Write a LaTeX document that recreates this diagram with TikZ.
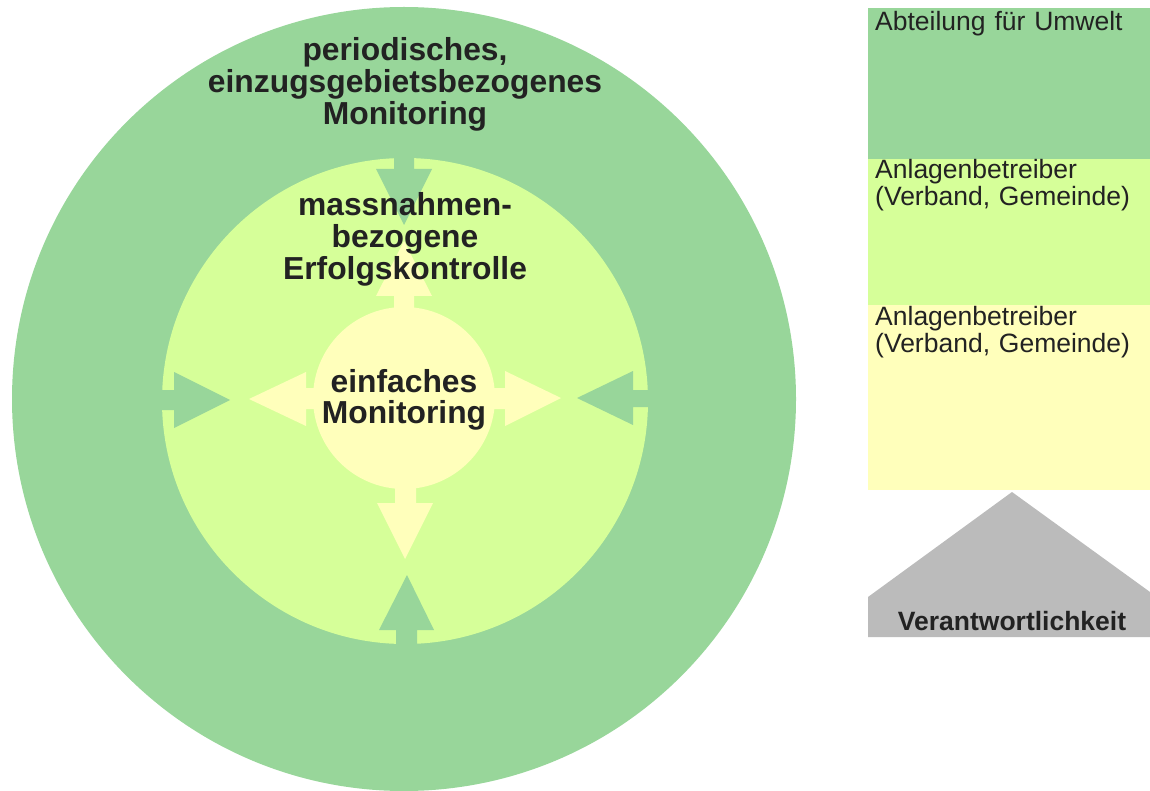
\documentclass[tikz,border=0pt]{standalone}
\usepackage{fontspec}
\setmainfont{Liberation Sans}
\definecolor{outergreen}{RGB}{152,214,154}
\definecolor{midgreen}{RGB}{214,255,153}
\definecolor{inyellow}{RGB}{255,255,187}
\definecolor{panelgray}{RGB}{187,187,187}
\definecolor{txt}{RGB}{34,34,34}
\tikzset{
  disc/.style={circle, inner sep=0pt, draw=none},
  bigtext/.style={font=\fontsize{31.8}{31.8}\selectfont\bfseries, text=txt, align=center, inner sep=0pt, anchor=base},
  labeltext/.style={font=\fontsize{26.5}{27}\selectfont, text=txt, align=left, inner sep=0pt, anchor=base west, text width=270pt},
  panel/.style={inner sep=0pt, draw=none, anchor=north west, minimum width=282pt},
}
\begin{document}
\begin{tikzpicture}[x=1pt,y=-1pt]
\useasboundingbox (0,0) rectangle (1150,791);
% circles
\node[disc, fill=outergreen, minimum size=784pt] (outer) at (404,399) {};
\node[disc, fill=midgreen, minimum size=486pt] (middle) at (405,401) {};
\node[disc, fill=inyellow, minimum size=182pt] (inner) at (404,398) {};
% green arrows (from outer ring inwards)
\fill[outergreen] (394,140) -- (414,140) -- (414,169) -- (432,169) -- (404,225) -- (376,169) -- (394,169) -- cycle;
\fill[outergreen] (150,390) -- (174,390) -- (174,372) -- (230,400) -- (174,428) -- (174,410) -- (150,410) -- cycle;
\fill[outergreen] (660,390) -- (633,390) -- (633,371) -- (577,398) -- (633,425) -- (633,407) -- (660,407) -- cycle;
\fill[outergreen] (396,660) -- (396,630) -- (379,630) -- (407,575) -- (434,630) -- (417,630) -- (417,660) -- cycle;
% yellow arrows (from inner circle outwards)
\fill[inyellow] (394,330) -- (394,296) -- (376,296) -- (404,241) -- (432,296) -- (414,296) -- (414,330) -- cycle;
\fill[inyellow] (330,388) -- (306,388) -- (306,372) -- (249,399) -- (306,426) -- (306,409) -- (330,409) -- cycle;
\fill[inyellow] (470,388) -- (505,388) -- (505,371) -- (561,398) -- (505,426) -- (505,409) -- (470,409) -- cycle;
\fill[inyellow] (395,470) -- (395,503) -- (377,503) -- (405,559) -- (433,503) -- (416,503) -- (416,470) -- cycle;
% circle texts
\node[bigtext, text width=420pt] (t1) at (405,61) {periodisches,\\einzugsgebietsbezogenes\\Monitoring};
\node[bigtext, text width=300pt] (t2) at (405,216) {massnahmen-\\bezogene\\Erfolgskontrolle};
\node[bigtext, text width=200pt] (t3) at (404,392) {einfaches\\Monitoring};
% right panel
\node[panel, fill=outergreen, minimum height=151pt] (p1) at (868,8) {};
\node[panel, fill=midgreen, minimum height=147pt] (p2) at (868,158.5) {};
\node[panel, fill=inyellow, minimum height=185pt] (p3) at (868,305) {};
\node[labeltext] (l1) at (875,31) {Abteilung für Umwelt};
\node[labeltext] (l2) at (875,179) {Anlagenbetreiber\\(Verband, Gemeinde)};
\node[labeltext] (l3) at (875,326) {Anlagenbetreiber\\(Verband, Gemeinde)};
% responsibility arrow
\fill[panelgray] (1012,492) -- (1150,592) -- (1150,637) -- (868,637) -- (868,597) -- cycle;
\node[font=\fontsize{26.5}{27}\selectfont\bfseries, text=txt, inner sep=0pt, anchor=base] (verant) at (1012,630) {Verantwortlichkeit};
\end{tikzpicture}
\end{document}
